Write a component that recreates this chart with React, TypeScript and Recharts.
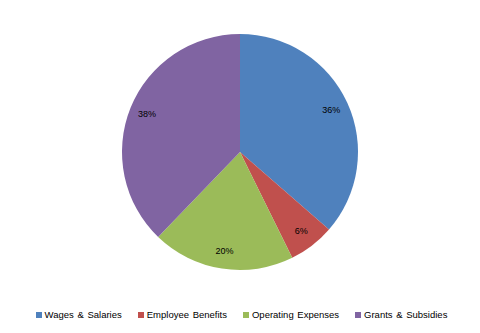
import React from "react";
import { PieChart, Pie, Cell } from "recharts";

const categories = ["Wages & Salaries", "Employee Benefits", "Operating Expenses", "Grants & Subsidies"];
const values = [36.4, 6.3, 19.5, 37.8];
const colors = ["#4F81BD", "#C0504D", "#9BBB59", "#8064A2"];

const data = categories.map((name, i) => ({ name, value: values[i] }));

const RAD = Math.PI / 180;

const renderLabel = (props: any) => {
  const { cx, cy, midAngle, outerRadius, percent } = props;
  const r = outerRadius * 0.85;
  const x = cx + r * Math.cos(-midAngle * RAD);
  const y = cy + r * Math.sin(-midAngle * RAD);
  return (
    <text
      x={x}
      y={y}
      textAnchor="middle"
      dominantBaseline="central"
      fontSize={9}
      fontFamily="'Liberation Sans', Arial, sans-serif"
      fill="#000"
    >
      {`${Math.round(percent * 100)}%`}
    </text>
  );
};

const LegendBox = () => (
  <div
    style={{
      position: "absolute",
      top: 309,
      left: 0,
      width: 480,
      display: "flex",
      justifyContent: "center",
      gap: 16,
      fontSize: 9.5,
      lineHeight: "12px",
      fontFamily: "'Liberation Sans', Arial, sans-serif",
      color: "#000",
      paddingLeft: 3,
      boxSizing: "border-box",
    }}
  >
    {categories.map((c, i) => (
      <div key={c} style={{ display: "flex", alignItems: "center" }}>
        <span style={{ width: 6, height: 6, background: colors[i], marginRight: 3, display: "inline-block" }} />
        <span style={{ wordSpacing: 1 }}>{c}</span>
      </div>
    ))}
  </div>
);

export default function App() {
  return (
    <div style={{ position: "absolute", left: 0, top: 0, width: 480, height: 333, background: "#fff" }}>
      <PieChart width={480} height={333} margin={{ top: 0, right: 0, bottom: 0, left: 0 }}>
        <Pie
          data={data}
          dataKey="value"
          nameKey="name"
          cx={240}
          cy={152}
          outerRadius={118}
          startAngle={90}
          endAngle={-270}
          stroke="none"
          label={renderLabel}
          labelLine={false}
          isAnimationActive={false}
        >
          {data.map((d, i) => (
            <Cell key={d.name} fill={colors[i]} />
          ))}
        </Pie>
      </PieChart>
      <LegendBox />
    </div>
  );
}
